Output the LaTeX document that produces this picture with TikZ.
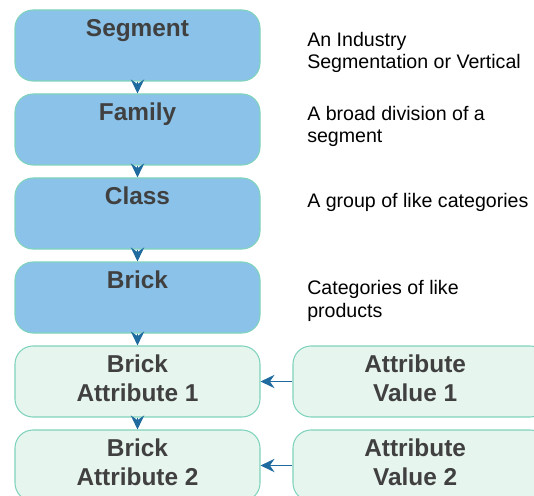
\documentclass[tikz,border=0pt]{standalone}
\usepackage{fontspec}
\setmainfont{Liberation Sans}
\usetikzlibrary{arrows.meta}
\definecolor{bluefill}{HTML}{8BC2E9}
\definecolor{mint}{HTML}{7FD3BC}
\definecolor{lightfill}{HTML}{E7F5EF}
\definecolor{txtgrey}{HTML}{404040}
\definecolor{arrowblue}{HTML}{1F6A9E}
\tikzset{
  boxbase/.style={rectangle, rounded corners=13.5pt, draw=mint, line width=0.8pt,
    minimum width=183.75pt, minimum height=53.25pt, inner sep=0pt},
  bluebox/.style={boxbase, fill=bluefill},
  lightbox/.style={boxbase, fill=lightfill},
  rightbox/.style={boxbase, fill=lightfill, minimum width=191.25pt},
  title/.style={anchor=north, yshift=-7pt, inner sep=0pt, align=center, text=txtgrey,
    font=\bfseries\fontsize{18.3pt}{21.75pt}\selectfont},
  desc/.style={anchor=base west, inner sep=0pt, align=left, text=black,
    font=\fontsize{14.7pt}{16.9pt}\selectfont},
  conn/.style={draw=arrowblue, line width=1.1pt, -{Stealth[length=10.5pt, width=10pt, inset=3.5pt, fill=arrowblue]}},
}
\begin{document}
\begin{tikzpicture}[x=0.75pt, y=-0.75pt]
\useasboundingbox (0,0) rectangle (534,495);
\clip (0,0) rectangle (534,495);
\node[bluebox, label={[title]north:Segment}] (seg) at (137.5,45.5) {};
\node[bluebox, label={[title]north:Family}] (fam) at (137.5,129.5) {};
\node[bluebox, label={[title]north:Class}] (cls) at (137.5,213.5) {};
\node[bluebox, label={[title]north:Brick}] (brk) at (137.5,297.5) {};
\node[lightbox, label={[title]north:Brick\\Attribute 1}] (ba1) at (137.5,381.5) {};
\node[lightbox, label={[title]north:Brick\\Attribute 2}] (ba2) at (137.5,465.5) {};
\node[rightbox, label={[title, xshift=-4pt]north:Attribute\\Value 1}] (av1) at (420.5,381.5) {};
\node[rightbox, label={[title, xshift=-4pt]north:Attribute\\Value 2}] (av2) at (420.5,465.5) {};

\node[desc] (d1) at (307,69) {An Industry\\Segmentation or Vertical};
\node[desc] (d2) at (307,143) {A broad division of a\\segment};
\node[desc] (d3) at (307,207) {A group of like categories};
\node[desc] (d4) at (307,317) {Categories of like\\products};

\draw[conn] (seg) -- (fam);
\draw[conn] (fam) -- (cls);
\draw[conn] (cls) -- (brk);
\draw[conn] (brk) -- (ba1);
\draw[conn] (ba1) -- (ba2);
\draw[conn] (av1) -- (ba1);
\draw[conn] (av2) -- (ba2);
\end{tikzpicture}
\end{document}
